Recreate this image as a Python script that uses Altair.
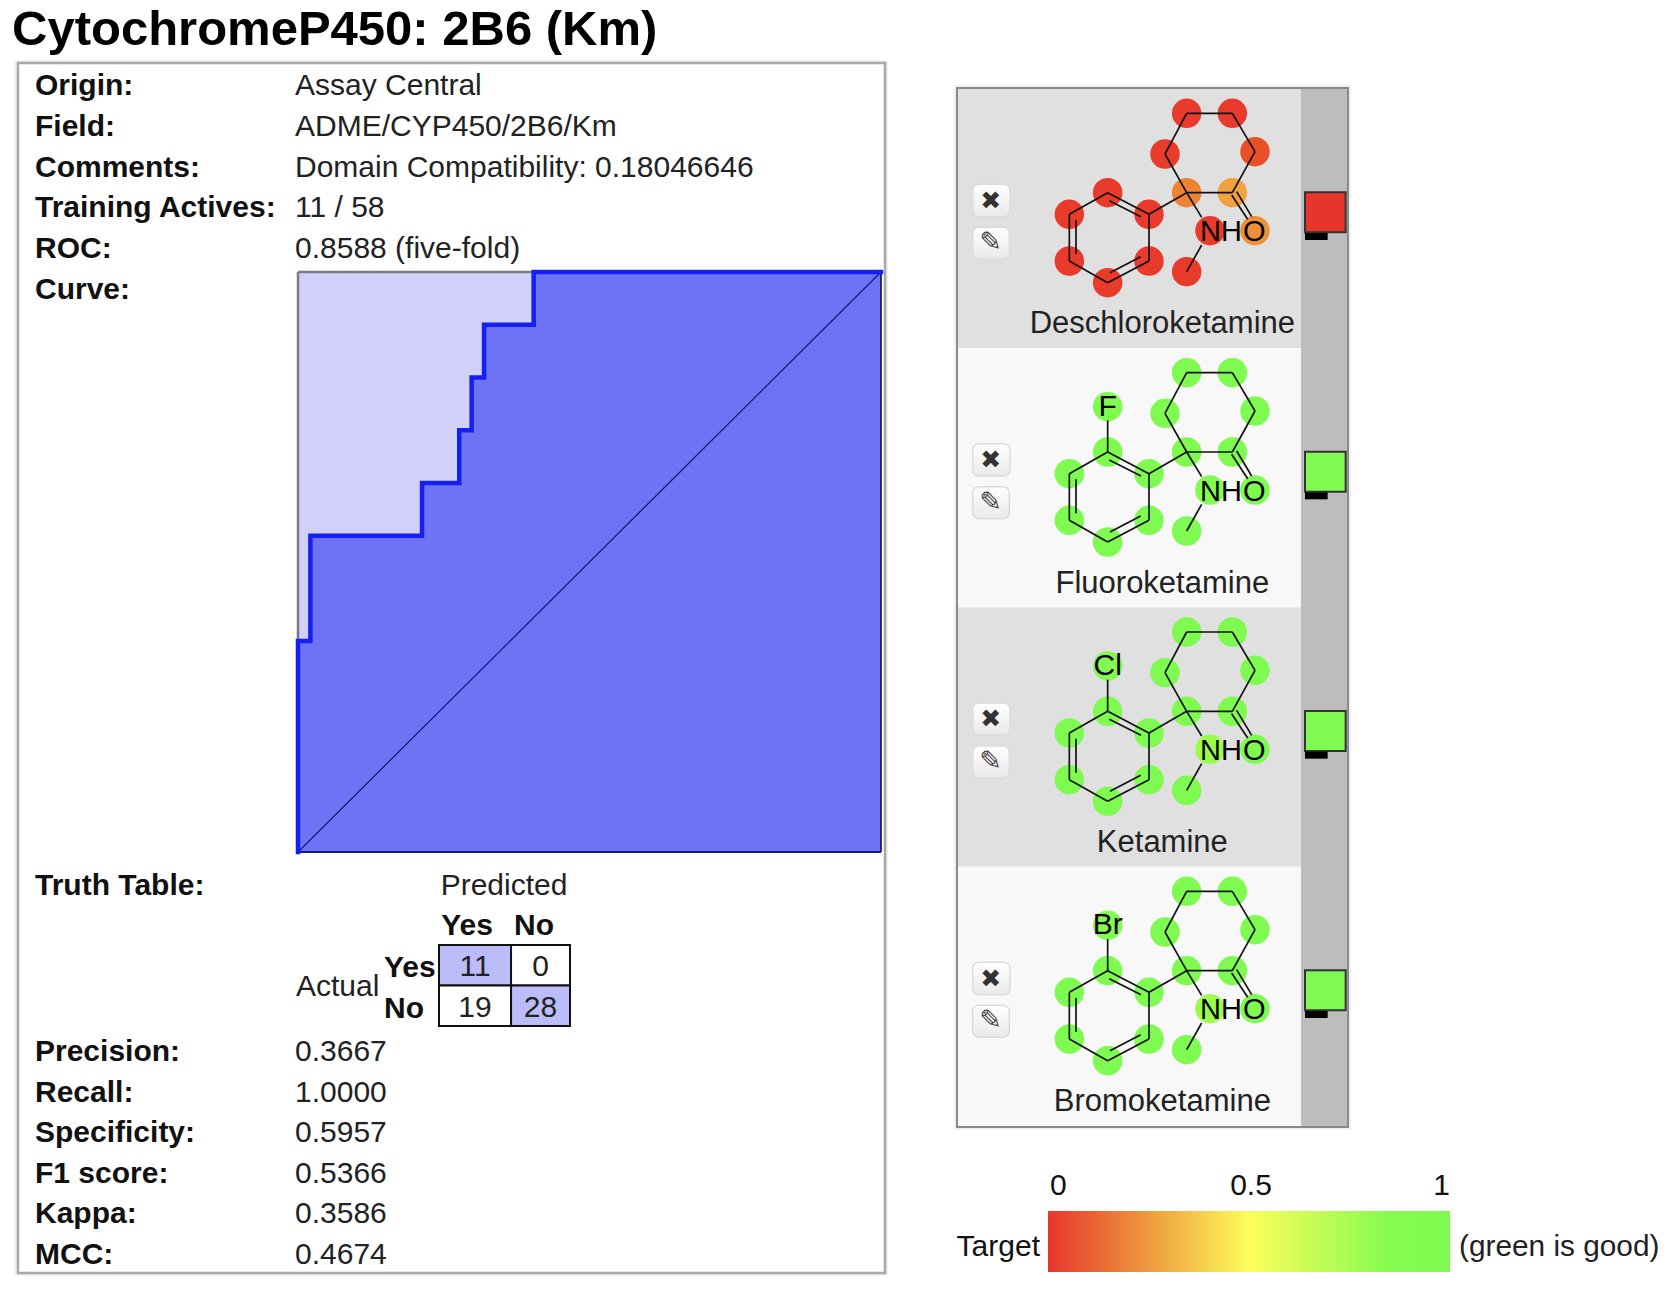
import altair as alt
import pandas as pd

# ---------- values ----------
title_text = "CytochromeP450: 2B6 (Km)"
top_labels = ["Origin:", "Field:", "Comments:", "Training Actives:", "ROC:", "Curve:"]
top_values = ["Assay Central", "ADME/CYP450/2B6/Km", "Domain Compatibility: 0.18046646",
              "11 / 58", "0.8588 (five-fold)", ""]
bottom_labels = ["Precision:", "Recall:", "Specificity:", "F1 score:", "Kappa:", "MCC:"]
bottom_values = ["0.3667", "1.0000", "0.5957", "0.5366", "0.3586", "0.4674"]

# ROC steps as counts: negatives passed (of 47), actives found (of 11)
roc_neg = [0, 0, 1, 1, 10, 10, 13, 13, 14, 14, 15, 15, 19, 19, 47]
roc_act = [0, 4, 4, 6, 6, 7, 7, 8, 8, 9, 9, 10, 10, 11, 11]

truth_col = [0, 1, 0, 1]
truth_row = [0, 0, 1, 1]
truth_val = [11, 0, 19, 28]
truth_hit = [True, False, False, True]

mol_names = ["Deschloroketamine", "Fluoroketamine", "Ketamine", "Bromoketamine"]
mol_halogen = ["", "F", "Cl", "Br"]
mol_score = [0.0, 1.0, 1.0, 1.0]

# atom positions in the drawing's own units
atom_x = [473, 597, 597, 473, 358, 358, 710, 847, 915, 847, 710, 645, 780, 710, 915]
atom_y = [338, 403, 543, 608, 543, 403, 100, 100, 215, 338, 338, 222, 452, 575, 452]
atom_scores = [
    [.01, .01, .01, .01, .01, .01, .01, .01, .05, .27, .18, .01, .01, .01, .22],
    [1, 1, 1, 1, 1, 1, 1, 1, 1, 1, 1, 1, .9, 1, 1],
    [1, 1, 1, 1, 1, 1, 1, 1, 1, 1, 1, 1, .8, 1, 1],
    [1, 1, 1, 1, 1, 1, 1, 1, 1, 1, 1, 1, .8, 1, 1],
]
halogen_score = [None, .98, .95, .9]

bond_x1 = [473, 597, 597, 473, 358, 358, 597, 710, 645, 710, 847, 915, 847, 710, 755, 478, 378, 480, 845, 860]
bond_y1 = [338, 403, 543, 608, 543, 403, 403, 338, 222, 100, 100, 215, 338, 338, 495, 362, 420, 578, 345, 335]
bond_x2 = [597, 597, 473, 358, 358, 473, 710, 645, 710, 847, 915, 847, 710, 755, 710, 573, 378, 572, 893, 905]
bond_y2 = [403, 543, 608, 543, 403, 338, 338, 222, 100, 100, 215, 338, 338, 412, 575, 410, 522, 530, 418, 410]

legend_ticks = ["0", "0.5", "1"]
legend_pos = [0.0, 0.5, 1.0]
score_stops = [0.0, 0.25, 0.5, 0.85, 1.0]
score_colors = ["#e7352b", "#ee9a3f", "#fdfd5a", "#86fb50", "#7efa50"]

FONT = "Liberation Sans"
MARGIN = 8
BODY = 30


def pos(d0, d1, p0, p1):
    return alt.Scale(domain=[d0, d1], range=[p0 - MARGIN, p1 - MARGIN], nice=False, zero=False)


layers = []


def text_col(texts, x_page, y0, y1, bold=False, size=BODY, align="left", color="#111", font=FONT):
    n = len(texts)
    df = pd.DataFrame({"t": texts, "r": list(range(n)), "c": [0] * n})
    return alt.Chart(df).mark_text(align=align, baseline="middle", font=font, fontSize=size,
                                   fontWeight="bold" if bold else "normal", color=color).encode(
        x=alt.X("c:Q", scale=pos(0, 1, x_page, x_page + 1), axis=None),
        y=alt.Y("r:Q", scale=pos(0, max(n - 1, 1), y0, y1), axis=None),
        text="t:N",
    )


card = pd.DataFrame({"a": [0], "b": [1], "c": [0], "d": [1]})


def box(x0, x1, y0, y1, **mk):
    return alt.Chart(card).mark_rect(**mk).encode(
        x=alt.X("a:Q", scale=pos(0, 1, x0, x1), axis=None), x2="b:Q",
        y=alt.Y("c:Q", scale=pos(0, 1, y0, y1), axis=None), y2="d:Q")


layers.append(box(17, 885, 63, 1273, fill="white", stroke="#000", strokeWidth=6, strokeOpacity=0.06))
layers.append(box(18, 885, 63, 1273, fill="white", stroke="#a8a8a8", strokeWidth=2.5))

layers.append(text_col([title_text], 12, 29.5, 29.5, bold=True, size=49, color="#000"))
layers.append(text_col(top_labels, 35, 86, 290, bold=True))
layers.append(text_col(top_values, 295, 86, 290, color="#222"))
layers.append(text_col(bottom_labels, 35, 1052, 1255, bold=True))
layers.append(text_col(bottom_values, 295, 1052, 1255, color="#222"))
layers.append(text_col(["Truth Table:"], 35, 886, 886, bold=True))

# ---------- ROC curve ----------
rx = (298, 881)
ry = (852, 272)
n = len(roc_neg)
roc = pd.DataFrame({"i": list(range(n)),
                    "f": [v / 47 for v in roc_neg],
                    "t": [v / 11 for v in roc_act],
                    "z": [0.0] * n})
layers.append(box(rx[0], rx[1], ry[1], ry[0], fill="#d0d0f9"))
layers.append(alt.Chart(roc).mark_area(color="#6d73f4", opacity=1).encode(
    x=alt.X("f:Q", scale=pos(0, 1, *rx), axis=None),
    y=alt.Y("t:Q", scale=pos(0, 1, *ry), axis=None), y2="z:Q"))
edges = pd.DataFrame({"a": [0, 0, 1, 0], "b": [1, 0, 1, 1], "c": [1, 0, 0, 0], "d": [1, 1, 1, 0],
                      "k": ["t", "l", "r", "b"]})
for keys, colr, w in [(["t", "l"], "#7a7a80", 2.5), (["r", "b"], "#1a1a78", 1.8)]:
    layers.append(alt.Chart(edges[edges.k.isin(keys)]).mark_rule(color=colr, strokeWidth=w).encode(
        x=alt.X("a:Q", scale=pos(0, 1, *rx), axis=None), x2="b:Q",
        y=alt.Y("c:Q", scale=pos(0, 1, *ry), axis=None), y2="d:Q"))
layers.append(alt.Chart(pd.DataFrame({"a": [0], "b": [1]})).mark_rule(color="#1a1a78", strokeWidth=1.3).encode(
    x=alt.X("a:Q", scale=pos(0, 1, *rx), axis=None), x2="b:Q",
    y=alt.Y("a:Q", scale=pos(0, 1, *ry), axis=None), y2="b:Q"))
layers.append(alt.Chart(roc).mark_line(color="#1420f2", strokeWidth=4.5, strokeCap="square", strokeJoin="miter").encode(
    x=alt.X("f:Q", scale=pos(0, 1, *rx), axis=None),
    y=alt.Y("t:Q", scale=pos(0, 1, *ry), axis=None), order="i:Q"))

# ---------- truth table ----------
col_edges = [0.0, 0.55, 1.0]
row_edges = [0.0, 0.5, 1.0]
tt = pd.DataFrame({"v": truth_val, "hit": truth_hit,
                   "x0": [col_edges[c] for c in truth_col], "x1": [col_edges[c + 1] for c in truth_col],
                   "y0": [row_edges[r] for r in truth_row], "y1": [row_edges[r + 1] for r in truth_row]})
tt["xm"] = (tt.x0 + tt.x1) / 2
tt["ym"] = (tt.y0 + tt.y1) / 2
tx = (439, 570)
ty = (945, 1026)
layers.append(alt.Chart(tt).mark_rect(stroke="#111", strokeWidth=2).encode(
    x=alt.X("x0:Q", scale=pos(0, 1, *tx), axis=None), x2="x1:Q",
    y=alt.Y("y0:Q", scale=pos(0, 1, *ty), axis=None), y2="y1:Q",
    fill=alt.Fill("hit:N", scale=alt.Scale(domain=[True, False], range=["#bcbdf8", "#ffffff"]), legend=None)))
ty_text = (947, 1028)
layers.append(alt.Chart(tt).mark_text(font=FONT, fontSize=BODY, color="#222", baseline="middle").encode(
    x=alt.X("xm:Q", scale=pos(0, 1, *tx), axis=None),
    y=alt.Y("ym:Q", scale=pos(0, 1, *ty_text), axis=None), text="v:Q"))
layers.append(text_col(["Predicted"], 504, 886, 886, align="center", color="#222"))
layers.append(text_col(["Yes"], 467, 926, 926, bold=True, align="center"))
layers.append(text_col(["No"], 534, 926, 926, bold=True, align="center"))
layers.append(text_col(["Yes", "No"], 384, 968, 1009, bold=True))
layers.append(text_col(["Actual"], 296, 987, 987, color="#222"))

# ---------- molecule panel (all in the drawing's own units) ----------
ROW = 778
MX = pos(0, 1260, 950, 1370)
MY = pos(0, 3240, 80, 1160)
score_scale = alt.Scale(domain=score_stops, range=score_colors)


def shift(v, k):
    return v + ROW * k


def m_rect(rows, **mk):
    df = pd.DataFrame(rows, columns=["a", "b", "c", "d"])
    return alt.Chart(df).mark_rect(**mk).encode(
        x=alt.X("a:Q", scale=MX, axis=None), x2="b:Q",
        y=alt.Y("c:Q", scale=MY, axis=None), y2="d:Q")


layers.append(m_rect([(21, 1194, 24, shift(804, 3) + 3)], fill="white", stroke="#000", strokeWidth=6, strokeOpacity=0.06))
layers.append(m_rect([(1053, 1194, 24, shift(804, 3) + 3)], fill="#bdbdbd"))
for k in range(4):
    fill = "#e0e0e0" if k % 2 == 0 else "#f8f8f8"
    top = 24 if k == 0 else shift(26, k)
    layers.append(m_rect([(21, 1053, top, shift(804, k))], fill=fill))
layers.append(m_rect([(21, 1194, 24, shift(804, 3) + 3)], fillOpacity=0, stroke="#8a8a8a", strokeWidth=2))

btn_fill = alt.LinearGradient(gradient="linear", x1=0, x2=0, y1=0, y2=1,
                              stops=[alt.GradientStop(color="#ffffff", offset=0),
                                     alt.GradientStop(color="#e9e9e9", offset=1)])
atoms, bonds, names, hal_atoms, swatches, tabs, btns, x_marks, pens, nh, oxy = ([] for _ in range(11))
for k in range(4):
    for ax, ay, s in zip(atom_x, atom_y, atom_scores[k]):
        atoms.append({"x": ax, "y": shift(ay, k), "s": s})
    for a, b, c, d in zip(bond_x1, bond_y1, bond_x2, bond_y2):
        bonds.append({"a": a, "b": c, "c": shift(b, k), "d": shift(d, k)})
    if mol_halogen[k]:
        hal_atoms.append({"x": 473, "y": shift(202, k), "s": halogen_score[k], "t": mol_halogen[k]})
        bonds.append({"a": 473, "b": 473, "c": shift(338, k), "d": shift(243, k)})
    names.append({"x": 637, "y": shift(733, k), "t": mol_names[k]})
    swatches.append({"a": 1065, "b": 1187, "c": shift(337, k), "d": shift(457, k), "s": mol_score[k]})
    tabs.append((1065, 1133, shift(459, k), shift(480, k)))
    btns.append((68, 180, shift(313, k), shift(410, k)))
    btns.append((68, 178, shift(442, k), shift(538, k)))
    x_marks.append({"x": 122, "y": shift(362, k), "t": "\u2716"})
    pens.append({"x": 122, "y": shift(490, k), "t": "\u270e"})
    nh.append({"x": 750, "y": shift(457, k), "t": "NH"})
    oxy.append({"x": 913, "y": shift(457, k), "t": "O"})


def m_text(rows, **mk):
    return alt.Chart(pd.DataFrame(rows)).mark_text(baseline="middle", **mk).encode(
        x=alt.X("x:Q", scale=MX, axis=None),
        y=alt.Y("y:Q", scale=MY, axis=None), text="t:N")


layers.append(alt.Chart(pd.DataFrame(atoms + hal_atoms)).mark_circle(size=870, opacity=1).encode(
    x=alt.X("x:Q", scale=MX, axis=None), y=alt.Y("y:Q", scale=MY, axis=None),
    color=alt.Color("s:Q", scale=score_scale, legend=None)))
layers.append(alt.Chart(pd.DataFrame(bonds)).mark_rule(color="#111", strokeWidth=1.7).encode(
    x=alt.X("a:Q", scale=MX, axis=None), x2="b:Q",
    y=alt.Y("c:Q", scale=MY, axis=None), y2="d:Q"))
layers.append(m_text(hal_atoms, font=FONT, fontSize=30, color="#000", align="center"))
layers.append(m_text(nh, font=FONT, fontSize=29, color="#000", align="left"))
layers.append(m_text(oxy, font=FONT, fontSize=29, color="#000", align="center"))
layers.append(m_text(names, font=FONT, fontSize=31, color="#222", align="center"))

layers.append(m_rect(btns, fill=btn_fill, stroke="#dcdcdc", strokeWidth=1.5, cornerRadius=6))
layers.append(m_text(x_marks, font="DejaVu Sans", fontSize=25, color="#333", align="center"))
layers.append(m_text(pens, font="DejaVu Sans", fontSize=27, color="#444", align="center"))

layers.append(alt.Chart(pd.DataFrame(swatches)).mark_rect(stroke="#333", strokeWidth=2).encode(
    x=alt.X("a:Q", scale=MX, axis=None), x2="b:Q",
    y=alt.Y("c:Q", scale=MY, axis=None), y2="d:Q",
    color=alt.Color("s:Q", scale=score_scale, legend=None)))
layers.append(m_rect(tabs, fill="#000"))

# ---------- colour key ----------
kx = (1048, 1450)
key_fill = alt.LinearGradient(gradient="linear", x1=0, x2=1, y1=0, y2=0,
                              stops=[alt.GradientStop(color=c, offset=o) for c, o in zip(score_colors, score_stops)])
layers.append(box(kx[0], kx[1], 1211, 1272, fill=key_fill))
for lbl, p, al, off in zip(legend_ticks, legend_pos, ["left", "center", "right"], [2, 2, 0]):
    page_x = kx[0] + (kx[1] - kx[0]) * p + off
    layers.append(text_col([lbl], page_x, 1186, 1186, align=al))
layers.append(text_col(["Target"], 1040, 1247, 1247, align="right"))
layers.append(text_col(["(green is good)"], 1459, 1247, 1247, size=29.8, color="#222"))

chart = alt.layer(*layers).resolve_scale(x="independent", y="independent").properties(
    width=1654, height=1276, padding=0,
    autosize=alt.AutoSizeParams(type="none", contains="padding"),
).configure_view(stroke=None)

chart.save("out.html", embed_options={"renderer": "svg", "actions": False})
